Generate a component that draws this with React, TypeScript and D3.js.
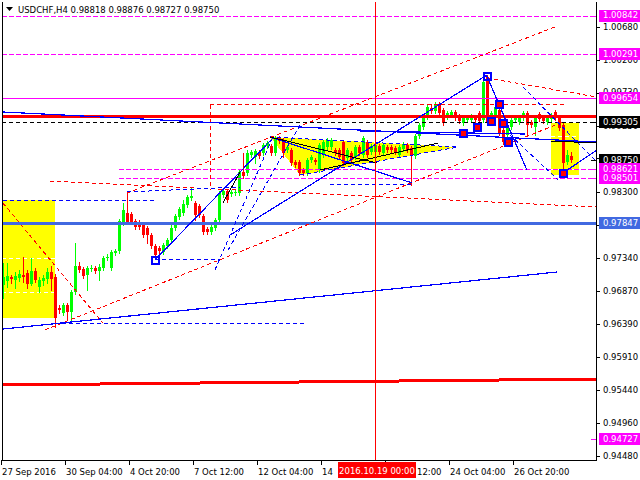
import React from 'react';
import * as d3 from 'd3';

// ---------- data ----------
const titleText = 'USDCHF,H4  0.98818 0.98876 0.98727 0.98750';

const opens = [
  0.9695, 0.9701, 0.9707, 0.9702, 0.9705, 0.9709, 0.9712, 0.9696, 0.9715, 0.9692,
  0.9701, 0.9704, 0.9714, 0.9707, 0.9662, 0.9655, 0.9666, 0.9656, 0.9685, 0.9722,
  0.9718, 0.9709, 0.9718, 0.9720, 0.9715, 0.9720, 0.9734, 0.9720, 0.9741, 0.9744,
  0.9785, 0.9799, 0.9798, 0.9787, 0.9786, 0.9782, 0.9777, 0.9767, 0.9751, 0.9748,
  0.9743, 0.9751, 0.9760, 0.9777, 0.9793, 0.9799, 0.9811, 0.9821, 0.9813, 0.9809,
  0.9795, 0.9776, 0.9772, 0.9777, 0.9789, 0.9825, 0.9831, 0.9826, 0.9828, 0.9828,
  0.9858, 0.9857, 0.9883, 0.9880, 0.9887, 0.9886, 0.9896, 0.9896, 0.9886, 0.9907,
  0.9904, 0.9890, 0.9890, 0.9873, 0.9873, 0.9861, 0.9857, 0.9876, 0.9876, 0.9861,
  0.9883, 0.9894, 0.9894, 0.9890, 0.9890, 0.9902, 0.9878, 0.9886, 0.9880, 0.9894,
  0.9883, 0.9902, 0.9887, 0.9887, 0.9896, 0.9886, 0.9894, 0.9894, 0.9893, 0.9883,
  0.9891, 0.9897, 0.9893, 0.9881, 0.9910, 0.9923, 0.9938, 0.9951, 0.9946, 0.9956,
  0.9948, 0.9938, 0.9941, 0.9945, 0.9939, 0.9929, 0.9933, 0.9933, 0.9938, 0.9943,
  0.9933, 0.9995, 0.9933, 0.9941, 0.9948, 0.9919, 0.9912, 0.9923, 0.9933, 0.9930,
  0.9936, 0.9943, 0.9930, 0.9923, 0.9942, 0.9936, 0.9930, 0.9935, 0.9945, 0.9936,
  0.9926, 0.9873, 0.98818,
];
const highs = [
  0.9727, 0.9727, 0.9709, 0.9714, 0.9717, 0.9736, 0.9717, 0.9734, 0.9720, 0.9707,
  0.9709, 0.9720, 0.9722, 0.9711, 0.9666, 0.9669, 0.9669, 0.9688, 0.9756, 0.9728,
  0.9721, 0.9722, 0.9724, 0.9722, 0.9725, 0.9737, 0.9740, 0.9746, 0.9747, 0.9790,
  0.9813, 0.9828, 0.9800, 0.9790, 0.9789, 0.9785, 0.9780, 0.9770, 0.9754, 0.9751,
  0.9756, 0.9763, 0.9786, 0.9798, 0.9808, 0.9818, 0.9825, 0.9837, 0.9816, 0.9812,
  0.9798, 0.9779, 0.9782, 0.9792, 0.9831, 0.9834, 0.9834, 0.9832, 0.9832, 0.9861,
  0.9886, 0.9890, 0.9890, 0.9891, 0.9890, 0.9900, 0.9903, 0.9899, 0.9910, 0.9910,
  0.9907, 0.9897, 0.9893, 0.9876, 0.9876, 0.9864, 0.9878, 0.9883, 0.9878, 0.9900,
  0.9904, 0.9907, 0.9907, 0.9893, 0.9893, 0.9904, 0.9893, 0.9889, 0.9897, 0.9897,
  0.9910, 0.9904, 0.9899, 0.9900, 0.9899, 0.9900, 0.9897, 0.9897, 0.9896, 0.9897,
  0.9902, 0.9900, 0.9896, 0.9913, 0.9929, 0.9939, 0.9955, 0.9956, 0.9959, 0.9959,
  0.9951, 0.9946, 0.9948, 0.9948, 0.9942, 0.9939, 0.9941, 0.9942, 0.9941, 0.9946,
  0.9994, 0.9998, 0.9946, 0.9955, 0.9951, 0.9922, 0.9929, 0.9936, 0.9941, 0.9939,
  0.9946, 0.9946, 0.9933, 0.9941, 0.9945, 0.9939, 0.9941, 0.9943, 0.9948, 0.9939,
  0.9929, 0.9890, 0.98876,
];
const lows = [
  0.9676, 0.9692, 0.9698, 0.9691, 0.9701, 0.9699, 0.9691, 0.9695, 0.9699, 0.9685,
  0.9695, 0.9698, 0.9688, 0.9634, 0.9655, 0.9652, 0.9645, 0.9645, 0.9682, 0.9714,
  0.9705, 0.9688, 0.9715, 0.9712, 0.9702, 0.9717, 0.9731, 0.9717, 0.9738, 0.9741,
  0.9782, 0.9783, 0.9783, 0.9776, 0.9776, 0.9764, 0.9756, 0.9748, 0.9737, 0.9741,
  0.9740, 0.9748, 0.9757, 0.9775, 0.9790, 0.9796, 0.9808, 0.9818, 0.9789, 0.9793,
  0.9769, 0.9769, 0.9769, 0.9775, 0.9786, 0.9822, 0.9815, 0.9824, 0.9825, 0.9825,
  0.9850, 0.9854, 0.9880, 0.9871, 0.9878, 0.9883, 0.9893, 0.9883, 0.9883, 0.9900,
  0.9880, 0.9887, 0.9868, 0.9865, 0.9854, 0.9854, 0.9854, 0.9873, 0.9870, 0.9858,
  0.9880, 0.9891, 0.9891, 0.9883, 0.9877, 0.9868, 0.9876, 0.9873, 0.9877, 0.9883,
  0.9880, 0.9880, 0.9884, 0.9884, 0.9884, 0.9883, 0.9887, 0.9887, 0.9884, 0.9880,
  0.9889, 0.9887, 0.9840, 0.9878, 0.9907, 0.9920, 0.9935, 0.9943, 0.9943, 0.9941,
  0.9926, 0.9935, 0.9938, 0.9933, 0.9929, 0.9926, 0.9930, 0.9930, 0.9930, 0.9929,
  0.9930, 0.9927, 0.9930, 0.9938, 0.9912, 0.9899, 0.9909, 0.9920, 0.9930, 0.9927,
  0.9933, 0.9910, 0.9923, 0.9912, 0.9932, 0.9929, 0.9927, 0.9932, 0.9933, 0.9919,
  0.9853, 0.9870, 0.98727,
];
const closes = [
  0.9707, 0.9708, 0.9704, 0.9708, 0.9711, 0.9707, 0.9696, 0.9715, 0.9702, 0.9702,
  0.9705, 0.9714, 0.9704, 0.9647, 0.9659, 0.9666, 0.9656, 0.9685, 0.9722, 0.9717,
  0.9708, 0.9720, 0.9720, 0.9715, 0.9721, 0.9734, 0.9736, 0.9743, 0.9744, 0.9787,
  0.9803, 0.9786, 0.9786, 0.9779, 0.9779, 0.9767, 0.9767, 0.9751, 0.9738, 0.9744,
  0.9753, 0.9760, 0.9777, 0.9795, 0.9805, 0.9812, 0.9822, 0.9824, 0.9796, 0.9796,
  0.9772, 0.9772, 0.9779, 0.9789, 0.9828, 0.9831, 0.9818, 0.9829, 0.9829, 0.9858,
  0.9853, 0.9886, 0.9887, 0.9889, 0.9881, 0.9897, 0.9900, 0.9886, 0.9907, 0.9903,
  0.9886, 0.9894, 0.9871, 0.9868, 0.9857, 0.9857, 0.9876, 0.9880, 0.9873, 0.9897,
  0.9902, 0.9904, 0.9904, 0.9886, 0.9880, 0.9871, 0.9890, 0.9876, 0.9894, 0.9886,
  0.9907, 0.9883, 0.9896, 0.9897, 0.9887, 0.9897, 0.9890, 0.9890, 0.9887, 0.9894,
  0.9899, 0.9890, 0.9881, 0.9910, 0.9926, 0.9936, 0.9952, 0.9946, 0.9956, 0.9943,
  0.9929, 0.9943, 0.9945, 0.9936, 0.9932, 0.9936, 0.9938, 0.9939, 0.9933, 0.9932,
  0.9988, 0.9930, 0.9943, 0.9952, 0.9915, 0.9902, 0.9926, 0.9933, 0.9938, 0.9936,
  0.9943, 0.9926, 0.9926, 0.9938, 0.9935, 0.9932, 0.9938, 0.9941, 0.9936, 0.9922,
  0.9871, 0.9883, 0.98750,
];

const yTickValues = [1.0068, 1.002, 0.9973, 0.9925, 0.9878, 0.983, 0.9782, 0.9734, 0.9687, 0.9639, 0.9591, 0.9544, 0.9496, 0.9448];
const xTickIndex = [0, 16, 32, 48, 64, 80, 96, 112, 128];
const xTickLabels = ['27 Sep 2016', '30 Sep 04:00', '4 Oct 20:00', '7 Oct 12:00', '12 Oct 04:00', '14', '12:00', '24 Oct 04:00', '26 Oct 20:00'];
// label offsets (in bars) for the two labels partly hidden behind the cursor tag
const xTickLabelShift = [0, 0, 0, 0, 0, 0, 7.7, 0, 0];
const cursorIndex = 93;
const cursorLabel = '2016.10.19 00:00';

// horizontal levels (prices)
const magentaDashedLevels = [1.00842, 1.00291];
const magentaSolidLevels = [0.99654];
const redThickLevels = [0.9939];
const blackDashedLevels = [0.99305];
const magentaShortLevels = [0.98621, 0.98501];
const blueThickLevels = [0.97847];

// price labels on the axis
const axisTagPrices = [1.00842, 1.00291, 0.99654, 0.99305, 0.9875, 0.98621, 0.98501, 0.97847, 0.94727];
const axisTagKinds = ['m', 'm', 'm', 'k', 'k', 'm', 'm', 'b', 'm'];

// trend lines: [barIndex1, price1, barIndex2, price2]
const redThickSloped = [[-0.325, 0.95507, 148.175, 0.95593]];
const redDashedLines = [
  [10.4, 0.96301, 139.9, 0.99304],
  [30.9, 0.98279, 137.9, 1.00676],
  [-0.1, 0.98135, 24.9, 0.96402],
  [11.7, 0.98452, 148.4, 0.98077],
  [51.7, 0.9955, 51.7, 0.98322],
  [51.7, 0.99564, 140.4, 0.99564],
  [120.9, 0.9994, 148.4, 0.99665],
];
const blueSolidLines = [
  [-0.1, 0.96315, 138.4, 0.97138],
  [-0.1, 0.99449, 148.4, 0.99015],
  [37.9, 0.97312, 67.4, 0.99073],
  [67.4, 0.99073, 102.2, 0.98424],
  [56.7, 0.97673, 120.9, 0.99983],
  [120.9, 0.99969, 130.9, 0.98611],
  [139.9, 0.98568, 148.4, 0.989],
  [89.2, 0.99174, 130.4, 0.99131],
];
const blueDashedLines = [
  [-0.1, 0.98164, 38.4, 0.98164],
  [12.9, 0.96388, 75.4, 0.96388],
  [37.9, 0.97312, 54.2, 0.97312],
  [30.9, 0.98294, 59.2, 0.98366],
  [81.7, 0.98395, 102.2, 0.98395],
  [66.7, 0.99088, 113.7, 0.98943],
  [74.2, 0.98539, 113.7, 0.98943],
  [129.9, 0.9981, 148.4, 0.98727],
  [126.7, 0.99117, 138.7, 0.98467],
  [52.9, 0.97167, 67.4, 0.99088],
  [56.2, 0.97456, 74.2, 0.99261],
];
const blackLines = [
  [66.7, 0.99088, 93.4, 0.98712],
  [79.2, 0.98611, 108.7, 0.99001],
  [54.9, 0.98135, 59.2, 0.98582],
  [136.9, 0.9903, 148.4, 0.99001],
];
// yellow rectangles: [bar1, priceTop, bar2, priceBottom]
const yellowBoxes = [
  [-0.325, 0.98178, 12.9, 0.96474],
  [136.9, 0.9929, 143.9, 0.98539],
];
const yellowTriangle = [[66.7, 0.99088], [113.7, 0.98943], [74.2, 0.98539]];
const whiteDashedLevels = [
  [-0.325, 12.9, 0.97831],
  [-0.325, 12.9, 0.9734],
  [-0.325, 12.9, 0.96849],
  [136.9, 143.9, 0.99102],
  [136.9, 143.9, 0.98625],
];
// wave markers [bar, price]
const filledMarkers = [[115, 0.99145], [118.5, 0.99232], [122, 0.99319], [124, 0.99564], [125, 0.9929], [126.2, 0.99015], [140, 0.98568]];
const hollowMarkers = [[121, 0.99969], [38, 0.97312]];

// ---------- layout ----------
const L = 2, R = 596, T = 2, B = 460;
const FONT = 'DejaVu Sans, Verdana, sans-serif';

export default function App() {
  const x = d3.scaleLinear().domain([-0.325, 148.175]).range([L, R]);
  const y = d3.scaleLinear().domain([0.94424, 1.01037]).range([B, T]);
  const tagColor: Record<string, string> = { m: '#ff00ff', k: '#000000', b: '#4169e1' };
  const fmt = d3.format('.5f');

  const seg = (arr: number[][], color: string, w: number, dash?: string, key = '') =>
    arr.map((s, i) => (
      <line key={key + i} x1={x(s[0])} y1={y(s[1])} x2={x(s[2])} y2={y(s[3])}
        stroke={color} strokeWidth={w} strokeDasharray={dash} />
    ));
  const hl = (levels: number[], color: string, w: number, dash?: string, x0 = L, x1 = R, key = '') =>
    levels.map((p, i) => (
      <line key={key + i} x1={x0} x2={x1} y1={Math.round(y(p)) + 0.5} y2={Math.round(y(p)) + 0.5}
        stroke={color} strokeWidth={w} strokeDasharray={dash} />
    ));

  const triPath = d3.line()(yellowTriangle.map((d) => [x(d[0]), y(d[1])] as [number, number])) + 'Z';

  return (
    <svg width={640} height={480} style={{ position: 'absolute', left: 0, top: 0, display: 'block' }}
      fontFamily={FONT} fontSize={8.5}>
      <rect x={0} y={0} width={640} height={480} fill="#ffffff" />
      <defs>
        <clipPath id="plotClip"><rect x={L} y={T} width={R - L} height={B - T} /></clipPath>
      </defs>
      <g clipPath="url(#plotClip)" shapeRendering="crispEdges">
        {yellowBoxes.map((b, i) => (
          <rect key={'yb' + i} x={x(b[0])} y={y(b[1])} width={x(b[2]) - x(b[0])} height={y(b[3]) - y(b[1])} fill="#ffff00" />
        ))}
        <path d={triPath} fill="#ffff00" />
        {whiteDashedLevels.map((w, i) => (
          <line key={'wd' + i} x1={x(w[0])} x2={x(w[1])} y1={Math.round(y(w[2])) + 0.5} y2={Math.round(y(w[2])) + 0.5}
            stroke="#ffffff" strokeDasharray="4,3" />
        ))}
        {/* candles */}
        {closes.map((c, i) => {
          const o = opens[i], h = highs[i], l = lows[i];
          const up = c >= o;
          const col = up ? '#00ff00' : '#ff0000';
          const cx = Math.round(x(i));
          const yTop = Math.round(y(Math.max(o, c)));
          const yBot = Math.round(y(Math.min(o, c)));
          return (
            <g key={'c' + i}>
              <line x1={cx + 0.5} x2={cx + 0.5} y1={Math.round(y(h))} y2={Math.round(y(l)) + 1} stroke={col} />
              <rect x={cx - 1} y={yTop} width={3} height={Math.max(1, yBot - yTop)} fill={col} />
            </g>
          );
        })}
        {/* levels */}
        {hl(magentaDashedLevels, '#ff00ff', 1, '5,2', L, R, 'md')}
        {hl(magentaSolidLevels, '#ff00ff', 1.5, undefined, L, R, 'ms')}
        {hl(magentaShortLevels, '#ff00ff', 1, '5,2', x(29), R, 'mh')}
        {hl(blackDashedLevels, '#000000', 1, '4,3', L, R, 'kd')}
        {hl(redThickLevels, '#ff0000', 3, undefined, L, R, 'rt')}
        {hl(blueThickLevels, '#4169e1', 3, undefined, L, R, 'bt')}
        {seg(redThickSloped, '#ff0000', 3, undefined, 'rs')}
        {seg(redDashedLines, '#ff0000', 1, '4,3', 'rd')}
        {seg(blueSolidLines, '#0000ff', 1.2, undefined, 'bs')}
        {seg(blueDashedLines, '#0000ff', 1, '4,3', 'bd')}
        {seg(blackLines, '#000000', 1, undefined, 'kl')}
        <line x1={Math.round(x(cursorIndex)) + 0.5} x2={Math.round(x(cursorIndex)) + 0.5} y1={T} y2={B} stroke="#ff0000" />
        {filledMarkers.map((m, i) => (
          <rect key={'fm' + i} x={Math.round(x(m[0])) - 3} y={Math.round(y(m[1])) - 3} width={7} height={7}
            fill="#ff0000" stroke="#0000ff" strokeWidth={1.5} />
        ))}
        {hollowMarkers.map((m, i) => (
          <rect key={'hm' + i} x={Math.round(x(m[0])) - 3} y={Math.round(y(m[1])) - 3} width={7} height={7}
            fill="none" stroke="#0000ff" strokeWidth={1.5} />
        ))}
      </g>

      {/* frame */}
      <g shapeRendering="crispEdges" stroke="#000000">
        <line x1={L + 0.5} x2={L + 0.5} y1={T} y2={B + 1} />
        <line x1={R + 0.5} x2={R + 0.5} y1={T} y2={B + 1} />
        <line x1={L} x2={R + 1} y1={B + 0.5} y2={B + 0.5} />
        {yTickValues.map((v, i) => (
          <line key={'yt' + i} x1={R} x2={R + 4} y1={Math.round(y(v)) + 0.5} y2={Math.round(y(v)) + 0.5} />
        ))}
        {xTickIndex.map((t, i) => (
          <line key={'xt' + i} x1={Math.round(x(t)) - 1.5} x2={Math.round(x(t)) - 1.5} y1={B} y2={B + 5} />
        ))}
      </g>
      {yTickValues.map((v, i) => (
        <text key={'yl' + i} x={603} y={y(v)} dy="0.35em" fill="#000000">{fmt(v)}</text>
      ))}
      {xTickIndex.map((t, i) => (
        <text key={'xl' + i} x={Math.round(x(t + xTickLabelShift[i])) - 1} y={475} fill="#000000">{xTickLabels[i]}</text>
      ))}

      {/* axis price tags */}
      {axisTagPrices.map((p, i) => (
        <g key={'tag' + i}>
          <line x1={R - 5} x2={R} y1={Math.round(y(p)) + 0.5} y2={Math.round(y(p)) + 0.5} stroke={tagColor[axisTagKinds[i]]} shapeRendering="crispEdges" />
          <rect x={599} y={Math.round(y(p)) - 6} width={41} height={12} fill={tagColor[axisTagKinds[i]]} shapeRendering="crispEdges" />
          <text x={603} y={y(p)} dy="0.35em" fill="#ffffff">{fmt(p)}</text>
        </g>
      ))}

      {/* cursor date tag */}
      <rect x={Math.round(x(cursorIndex)) - 37} y={462} width={78} height={16} fill="#ff0000" shapeRendering="crispEdges" />
      <text x={Math.round(x(cursorIndex)) + 2} y={474} fill="#ffffff" textAnchor="middle">{cursorLabel}</text>

      {/* title */}
      <path d="M6,7 L13,7 L9.5,11 Z" fill="#000000" />
      <text x={18} y={13} fill="#000000">{titleText}</text>
    </svg>
  );
}
